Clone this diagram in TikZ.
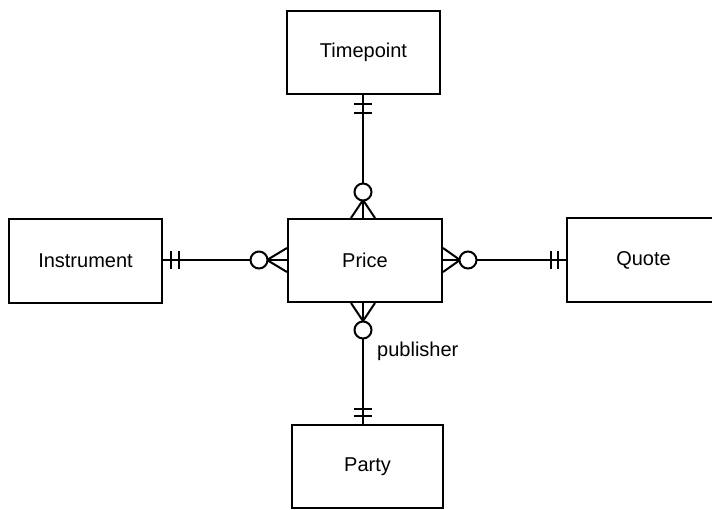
\documentclass[tikz,border=0pt]{standalone}
\usepackage{fontspec}
\setmainfont{Liberation Sans}
\begin{document}
\begin{tikzpicture}[x=1pt,y=-1pt,
  entity/.style={draw, line width=2pt, minimum width=153pt, minimum height=83pt,
    inner sep=0pt, font=\fontsize{20}{24}\selectfont},
  conn/.style={line width=2pt},
  lbl/.style={font=\fontsize{20}{24}\selectfont, inner sep=0pt}]
\useasboundingbox[fill=white] (0,0) rectangle (712,509);

% entities
\node[entity] (tp) at (363.5,52) {Timepoint};
\node[entity, minimum width=154pt] (pr) at (365,260.5) {Price};
\node[entity, minimum height=84pt] (in) at (85.5,261) {Instrument};
\node[entity, minimum height=84pt] (qu) at (643.5,260) {Quote};
\node[entity, minimum width=151pt] (pa) at (367.5,466.5) {Party};

% connector axes
\coordinate (vx) at (363,0);
\coordinate (hy) at (0,260);

% Timepoint -- Price
\draw[conn] (tp.south -| vx) -- (pr.north -| vx);
\draw[conn] (tp.south -| vx) ++(-9,9) -- ++(18,0);
\draw[conn] (tp.south -| vx) ++(-9,18) -- ++(18,0);
\draw[conn] (pr.north -| vx) ++(-12,0) -- ++(12,-18) -- ++(12,18);
\draw[conn, fill=white] (pr.north -| vx) ++(0,-26) circle[radius=8.5];

% Instrument -- Price
\draw[conn] (in.east |- hy) -- (pr.west |- hy);
\draw[conn] (in.east |- hy) ++(8,-9) -- ++(0,18);
\draw[conn] (in.east |- hy) ++(16,-9) -- ++(0,18);
\draw[conn] (pr.west |- hy) ++(0,-12) -- ++(-20,12) -- ++(20,12);
\draw[conn, fill=white] (pr.west |- hy) ++(-28,0) circle[radius=8.5];

% Price -- Quote
\draw[conn] (pr.east |- hy) -- (qu.west |- hy);
\draw[conn] (qu.west |- hy) ++(-15,-9) -- ++(0,18);
\draw[conn] (qu.west |- hy) ++(-8,-9) -- ++(0,18);
\draw[conn] (pr.east |- hy) ++(0,-12) -- ++(17,12) -- ++(-17,12);
\draw[conn, fill=white] (pr.east |- hy) ++(25,0) circle[radius=8.5];

% Price -- Party (publisher)
\draw[conn] (pr.south -| vx) -- (pa.north -| vx);
\draw[conn] (pa.north -| vx) ++(-9,-15) -- ++(18,0);
\draw[conn] (pa.north -| vx) ++(-9,-8) -- ++(18,0);
\draw[conn] (pr.south -| vx) ++(-12,0) -- ++(12,18) -- ++(12,-18);
\draw[conn, fill=white] (pr.south -| vx) ++(0,27) circle[radius=8.5];
\node[lbl, anchor=west] (pub) at (377,351) {publisher};
\end{tikzpicture}
\end{document}
